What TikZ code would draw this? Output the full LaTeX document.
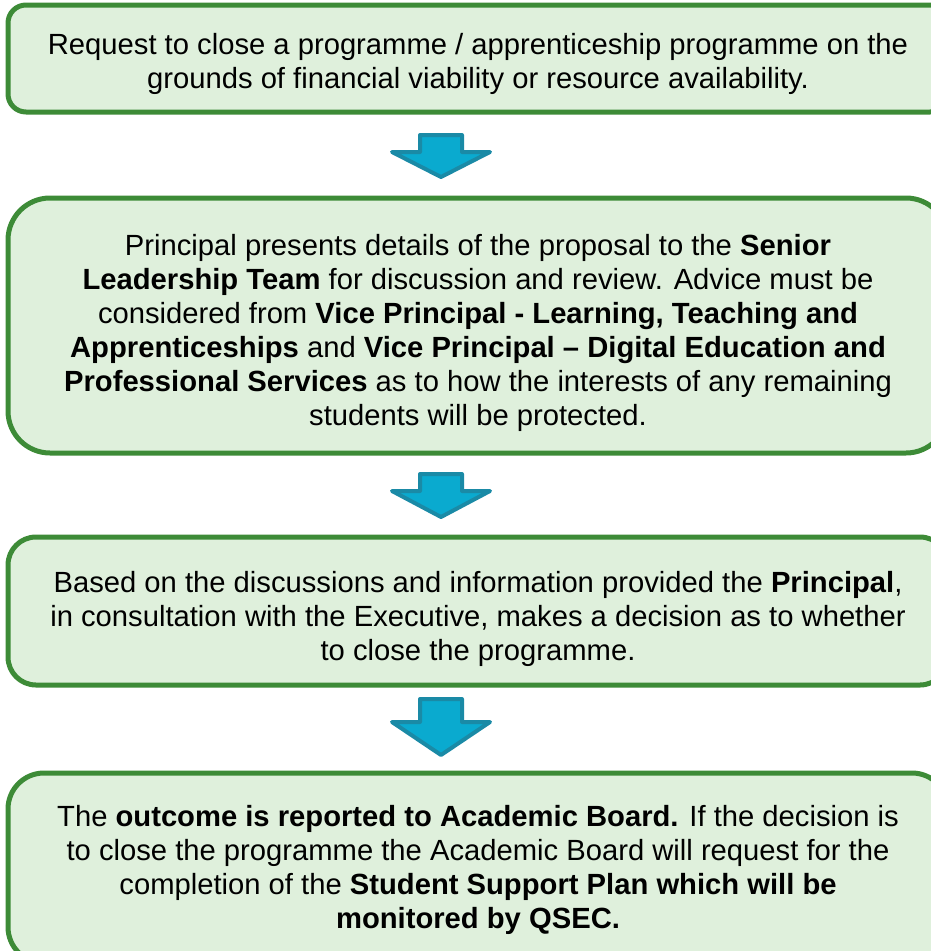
\documentclass[tikz,border=0pt]{standalone}
\usepackage{fontspec}
\setmainfont{Liberation Sans}
\definecolor{boxfill}{HTML}{DFF0DC}
\definecolor{boxline}{HTML}{3D8B37}
\definecolor{arrowfill}{HTML}{0AAACF}
\definecolor{arrowline}{HTML}{1A8AA6}

\begin{document}
\begin{tikzpicture}[x=1pt, y=-1pt, line join=round,
    stagebox/.style={draw=boxline, fill=boxfill, line width=5pt,
      minimum width=940pt, inner sep=0pt},
    stagetext/.style={align=center, inner sep=0pt,
      font=\fontsize{29.2}{34}\selectfont},
    downarrow/.style={draw=arrowline, fill=arrowfill, line width=4pt}]
  % Page frame (boxes run over the right edge)
  \clip (0,0) rectangle (931,951);

  % Stage boxes
  \node[stagebox, rounded corners=18pt, minimum height=107pt] (request) at (478,58.5) {};
  \node[stagebox, rounded corners=42pt, minimum height=255pt] (review) at (478,325.5) {};
  \node[stagebox, rounded corners=28pt, minimum height=148pt] (decision) at (478,611) {};
  \node[stagebox, rounded corners=36pt, minimum height=190pt] (outcome) at (478,868) {};

  % Stage texts
  \node[stagetext] (requestText) at ([yshift=-5pt]request)
    {Request to close a programme / apprenticeship programme on the\\
     grounds of financial viability or resource availability.};
  \node[stagetext] (reviewText) at ([yshift=-7pt]review)
    {Principal presents details of the proposal to the \textbf{Senior}\\
     \textbf{Leadership Team} for discussion and review. Advice must be\\
     considered from \textbf{Vice Principal - Learning, Teaching and}\\
     \textbf{Apprenticeships} and \textbf{Vice Principal – Digital Education and}\\
     \textbf{Professional Services} as to how the interests of any remaining\\
     students will be protected.};
  \node[stagetext] (decisionText) at ([yshift=-8pt]decision)
    {Based on the discussions and information provided the \textbf{Principal},\\
     in consultation with the Executive, makes a decision as to whether\\
     to close the programme.};
  \node[stagetext] (outcomeText) at ([yshift=-2pt]outcome)
    {The \textbf{outcome is reported to Academic Board.} If the decision is\\
     to close the programme the Academic Board will request for the\\
     completion of the \textbf{Student Support Plan which will be}\\
     \textbf{monitored by QSEC.}};

  % Block arrows between stages (top, head base, tip)
  \foreach \t/\b/\p in {135/152/177, 474/491/517, 699/722/755}
    \draw[downarrow] (420,\t) -- (462,\t) -- (462,\b) -- (490,\b) -- (441,\p)
      -- (392,\b) -- (420,\b) -- cycle;
\end{tikzpicture}
\end{document}
